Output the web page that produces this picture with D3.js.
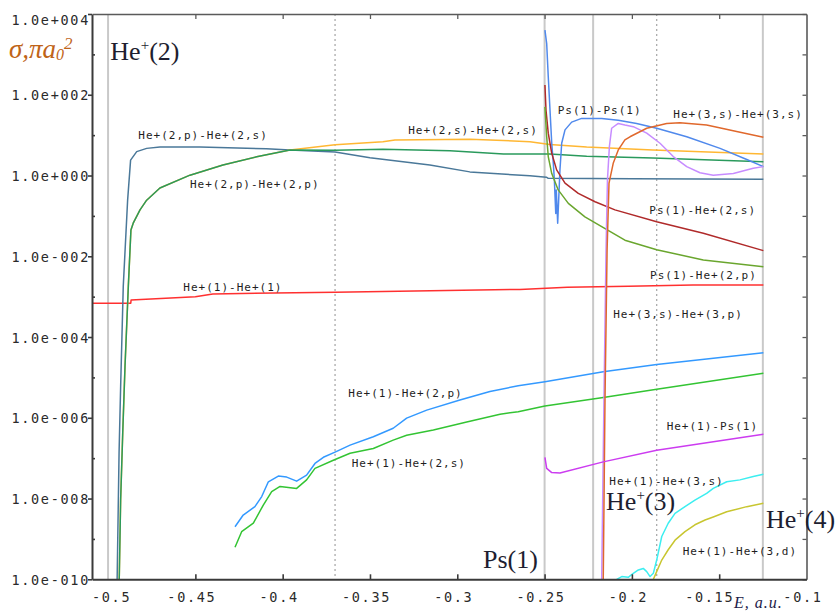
<!DOCTYPE html>
<html>
<head>
<meta charset="utf-8">
<script src="https://cdn.jsdelivr.net/npm/d3@7"></script>
<style>
body { margin: 0; background: #fff; }
svg { display: block; }
.tick-lbl { font-family: "DejaVu Sans Mono", monospace; font-size: 13.5px; letter-spacing: 1.7px; fill: #2a2a2a; }
.curve-lbl { font-family: "DejaVu Sans Mono", monospace; font-size: 11px; letter-spacing: 1px; fill: #1e1e1e; }
.big { font-family: "Liberation Serif", "Times New Roman", serif; font-size: 26px; fill: #1e1e30; }
</style>
</head>
<body>
<div id="chart"></div>
<script>
// axis ticks
var xTicks = [-0.5, -0.45, -0.4, -0.35, -0.3, -0.25, -0.2, -0.15, -0.1];
var yMajor = [1e4, 1e2, 1e0, 1e-2, 1e-4, 1e-6, 1e-8, 1e-10];
var yMajorLabels = ["1.0e+004", "1.0e+002", "1.0e+000", "1.0e-002", "1.0e-004", "1.0e-006", "1.0e-008", "1.0e-010"];
var yMinor = [1e3, 1e1, 1e-1, 1e-3, 1e-5, 1e-7, 1e-9];
var yAll = [1e4, 1e3, 1e2, 1e1, 1e0, 1e-1, 1e-2, 1e-3, 1e-4, 1e-5, 1e-6, 1e-7, 1e-8, 1e-9, 1e-10];

// thresholds (E, a.u.)
var solidLines = [-0.5, -0.25, -0.2222, -0.125];
var dottedLines = [-0.37, -0.1858];

// cross sections [E, sigma]
var he1_he1 = [[-0.5092,6.9e-4],[-0.4870,6.9e-4],[-0.4868,8.3e-4],[-0.4500,1.0e-3],[-0.4400,1.17e-3],[-0.3700,1.29e-3],
  [-0.2641,1.51e-3],[-0.2370,1.7e-3],[-0.2020,1.82e-3],[-0.1650,1.95e-3],[-0.1247,1.95e-3]];

var he1_he2p = [[-0.4273,2.0e-9],[-0.4226,3.9e-9],[-0.4159,6.3e-9],[-0.4120,1.12e-8],[-0.4082,2.6e-8],[-0.4025,3.6e-8],
  [-0.3977,3.4e-8],[-0.3920,2.7e-8],[-0.3863,3.8e-8],[-0.3815,7.4e-8],[-0.3767,1.05e-7],[-0.3700,1.41e-7],
  [-0.3614,2.1e-7],[-0.3481,3.4e-7],[-0.3367,5.5e-7],[-0.3290,9.8e-7],[-0.3175,1.55e-6],[-0.2985,2.75e-6],
  [-0.2813,4.5e-6],[-0.2651,6.2e-6],[-0.2498,7.8e-6],[-0.2164,1.38e-5],[-0.1858,2.1e-5],[-0.1247,4.1e-5]];

var he1_he2s = [[-0.4273,6.2e-10],[-0.4235,1.51e-9],[-0.4168,2.45e-9],[-0.4111,6.9e-9],[-0.4063,1.48e-8],[-0.4015,2.0e-8],
  [-0.3920,1.78e-8],[-0.3863,2.9e-8],[-0.3815,5.6e-8],[-0.3710,8.9e-8],[-0.3614,1.32e-7],[-0.3481,1.74e-7],
  [-0.3367,2.8e-7],[-0.3290,3.7e-7],[-0.3137,5.0e-7],[-0.2946,7.9e-7],[-0.2755,1.23e-6],[-0.2651,1.41e-6],
  [-0.2498,1.95e-6],[-0.2164,3.2e-6],[-0.1858,5.1e-6],[-0.1247,1.26e-5]];

var he2p_he2s = [[-0.4948,1e-10],[-0.4937,1.35e-7],[-0.4928,5.9e-6],[-0.4913,1.78e-3],[-0.4888,0.245],[-0.4871,2.4],
  [-0.4836,3.9],[-0.4779,4.7],[-0.4703,5.1],[-0.4474,5.1],[-0.4093,4.6],[-0.3958,4.3],[-0.3700,3.8],[-0.3500,2.75],
  [-0.3157,1.82],[-0.2928,1.23],[-0.2584,0.98],[-0.2490,0.91],[-0.2479,0.85],[-0.1994,0.83],[-0.1247,0.81]];

var he2s_he2s = [[-0.4936,1e-10],[-0.4928,9.1e-9],[-0.4916,4.2e-7],[-0.4903,1.86e-5],[-0.4884,1.78e-3],[-0.4869,0.045],
  [-0.4856,0.066],[-0.4817,0.141],[-0.4779,0.245],[-0.4703,0.49],[-0.4531,1.02],[-0.4342,1.82],[-0.4149,2.9],
  [-0.3958,4.3],[-0.3700,5.75],[-0.3426,6.9],[-0.3357,7.6],[-0.2928,7.9],[-0.2584,6.9],[-0.2470,5.9],
  [-0.2259,5.1],[-0.1880,4.3],[-0.1247,3.4]];

var he2p_he2p = [[-0.4936,1e-10],[-0.4928,9.1e-9],[-0.4916,4.2e-7],[-0.4903,1.86e-5],[-0.4884,1.78e-3],[-0.4869,0.045],
  [-0.4856,0.066],[-0.4817,0.141],[-0.4779,0.245],[-0.4703,0.49],[-0.4531,1.02],[-0.4342,1.82],[-0.4149,2.9],
  [-0.3958,4.3],[-0.3700,4.2],[-0.3426,4.5],[-0.3042,4.1],[-0.2735,3.4],[-0.2470,3.4],[-0.2259,3.0],
  [-0.1880,2.7],[-0.1247,2.2]];

var ps1_ps1 = [[-0.2498,4.0e3],[-0.2488,1.86e3],[-0.2479,282],[-0.2469,42],[-0.2459,6.3],[-0.2450,2.0],[-0.2444,0.78],
  [-0.2440,0.30],[-0.2436,0.115],[-0.2433,0.44],[-0.2425,0.066],[-0.2412,1.38],[-0.2402,6.3],[-0.2383,13.5],
  [-0.2345,21],[-0.2288,26],[-0.2173,26],[-0.2078,23.4],[-0.1973,19.5],[-0.1858,14.8],[-0.1686,9.1],
  [-0.1495,4.7],[-0.1342,2.5],[-0.1247,1.66]];

var ps1_he2s = [[-0.2498,174],[-0.2492,42],[-0.2479,11.2],[-0.2459,3.55],[-0.2431,1.38],[-0.2383,0.65],[-0.2307,0.36],
  [-0.2211,0.224],[-0.2097,0.141],[-0.1858,0.072],[-0.1591,0.037],[-0.1247,0.0138]];

var ps1_he2p = [[-0.2498,50],[-0.2488,9.1],[-0.2479,2.95],[-0.2459,1.12],[-0.2422,0.44],[-0.2364,0.204],[-0.2269,0.095],
  [-0.2173,0.054],[-0.2040,0.025],[-0.1858,0.0145],[-0.1591,0.0081],[-0.1247,0.0055]];

var he3s_he3p = [[-0.2173,1e-10],[-0.2160,2.75e-6],[-0.2148,0.0145],[-0.2140,0.78],[-0.2129,5.1],[-0.2116,14.8],
  [-0.2078,19.5],[-0.2040,17.8],[-0.1992,16.2],[-0.1915,11.2],[-0.1839,6.3],[-0.1763,2.95],[-0.1686,1.66],
  [-0.1610,1.17],[-0.1534,1.02],[-0.1419,1.12],[-0.1305,1.51],[-0.1247,1.66]];

var he3s_he3s = [[-0.2164,1e-10],[-0.2154,2.75e-6],[-0.2142,0.0145],[-0.2131,0.65],[-0.2107,2.0],[-0.2078,4.3],
  [-0.2040,7.6],[-0.2011,9.1],[-0.1915,14.8],[-0.1801,19.5],[-0.1725,20.4],[-0.1572,17.8],[-0.1400,12.3],
  [-0.1247,8.9]];

var he1_ps1 = [[-0.2498,1.05e-7],[-0.2488,5.6e-8],[-0.2459,4.4e-8],[-0.2412,4.3e-8],[-0.2164,8.1e-8],[-0.1858,1.58e-7],
  [-0.1247,3.9e-7]];

var he1_he3s = [[-0.2087,1e-10],[-0.2058,1.17e-10],[-0.2021,1.12e-10],[-0.1992,1.41e-10],[-0.1963,1.7e-10],
  [-0.1935,1.86e-10],[-0.1915,1.55e-10],[-0.1896,1.17e-10],[-0.1877,1.41e-10],[-0.1858,3.0e-10],[-0.1829,1.15e-9],
  [-0.1792,2.45e-9],[-0.1753,4.3e-9],[-0.1696,6.3e-9],[-0.1639,9.1e-9],[-0.1572,1.35e-8],[-0.1534,1.78e-8],
  [-0.1457,2.6e-8],[-0.1381,2.9e-8],[-0.1305,3.5e-8],[-0.1247,4.0e-8]];

var he1_he3d = [[-0.1877,1e-10],[-0.1858,1.55e-10],[-0.1829,3.0e-10],[-0.1792,5.4e-10],[-0.1753,9.3e-10],[-0.1696,1.51e-9],
  [-0.1639,2.24e-9],[-0.1581,2.95e-9],[-0.1534,3.5e-9],[-0.1457,4.7e-9],[-0.1342,6.3e-9],[-0.1247,7.6e-9]];

var seriesData = [he1_he1, he1_he2p, he1_he2s, he2p_he2s, he2s_he2s, he2p_he2p, ps1_ps1, ps1_he2s, ps1_he2p,
  he3s_he3p, he3s_he3s, he1_ps1, he1_he3s, he1_he3d];
var seriesColors = ["#ff3030", "#3399ff", "#33c433", "#4a7899", "#ffb733", "#2a9a5c", "#5089ec", "#b02a2a", "#6aa62e",
  "#c78cff", "#e0682c", "#cc3cf0", "#3ceef0", "#c8c630"];

// curve labels: text and anchor [E, sigma]
var labelTexts = ["He+(2,p)-He+(2,s)", "He+(2,p)-He+(2,p)", "He+(2,s)-He+(2,s)", "He+(1)-He+(1)", "Ps(1)-Ps(1)",
  "He+(3,s)-He+(3,s)", "Ps(1)-He+(2,s)", "Ps(1)-He+(2,p)", "He+(3,s)-He+(3,p)", "He+(1)-He+(2,p)",
  "He+(1)-He+(2,s)", "He+(1)-Ps(1)", "He+(1)-He+(3,s)", "He+(1)-He+(3,d)"];
var labelAt = [[-0.4827,8.0],[-0.4531,0.48],[-0.3281,10.7],[-0.4569,1.38e-3],[-0.2425,33],[-0.1763,26],
  [-0.1900,0.111],[-0.1896,2.8e-3],[-0.2107,2.9e-4],[-0.3624,3.2e-6],[-0.3605,5.9e-8],[-0.1801,5.0e-7],
  [-0.2129,2.2e-8],[-0.1709,4.1e-10]];

// threshold names [n, E, sigma]
var levelNames = [["2", -0.4987, 724], ["3", -0.2148, 5.2e-9], ["4", -0.1232, 1.86e-9]];
var psName = ["Ps(1)", -0.2853, 1.9e-10];

var W = 838, H = 611;
var m = {left: 92, right: 806.5, top: 14, bottom: 579.3};

var x = d3.scaleLinear().domain([-0.5092, -0.1]).range([m.left, m.right]);
var y = d3.scaleLog().domain([1e-10, 1e4]).range([m.bottom, m.top]);

var svg = d3.select("#chart").append("svg")
    .attr("width", W)
    .attr("height", H);

svg.append("clipPath").attr("id", "plotclip")
  .append("rect")
    .attr("x", m.left).attr("y", m.top)
    .attr("width", m.right - m.left).attr("height", m.bottom - m.top);

// threshold lines
svg.selectAll(".thr")
  .data(solidLines)
  .enter().append("line")
    .attr("x1", d => x(d)).attr("x2", d => x(d))
    .attr("y1", m.top).attr("y2", m.bottom)
    .attr("stroke", "#c9c9c9")
    .attr("stroke-width", 2);

svg.selectAll(".dot-thr")
  .data(dottedLines)
  .enter().append("line")
    .attr("x1", d => x(d)).attr("x2", d => x(d))
    .attr("y1", m.top).attr("y2", m.bottom)
    .attr("stroke", "#ababab")
    .attr("stroke-width", 1.3)
    .attr("stroke-dasharray", "2,3");

var line = d3.line()
    .x(d => x(d[0]))
    .y(d => y(d[1]));

var curves = svg.append("g").attr("clip-path", "url(#plotclip)");
curves.selectAll("path")
  .data(seriesData)
  .enter().append("path")
    .attr("d", line)
    .attr("fill", "none")
    .attr("stroke", (d, i) => seriesColors[i])
    .attr("stroke-width", 1.5)
    .attr("stroke-linejoin", "round");

// axes
function styleAxis(g, col, w) {
  g.select(".domain").attr("stroke", col).attr("stroke-width", w);
  g.selectAll(".tick line").attr("stroke", col).attr("stroke-width", w * 0.8);
}

var gl = svg.append("g")
    .attr("transform", "translate(" + m.left + ",0)")
    .call(d3.axisLeft(y).tickValues(yMajor).tickSizeInner(4).tickSizeOuter(0).tickPadding(-2)
      .tickFormat((d, i) => yMajorLabels[i]));
styleAxis(gl, "#3a3a3a", 2);
gl.selectAll("text").attr("class", "tick-lbl").attr("dy", d => d === 1e4 ? "0.77em" : "0.37em").attr("fill", null);

var glm = svg.append("g")
    .attr("transform", "translate(" + m.left + ",0)")
    .call(d3.axisLeft(y).tickValues(yMinor).tickSize(-3).tickFormat(""));
styleAxis(glm, "#3a3a3a", 2);
glm.select(".domain").remove();

var gr = svg.append("g")
    .attr("transform", "translate(" + m.right + ",0)")
    .call(d3.axisRight(y).tickValues(yAll).tickSizeInner(-4).tickSizeOuter(0).tickFormat(""));
styleAxis(gr, "#5a5a5a", 1.6);

var gt = svg.append("g")
    .attr("transform", "translate(0," + m.top + ")")
    .call(d3.axisTop(x).tickValues(xTicks.slice(1, 8)).tickSizeInner(-5).tickSizeOuter(0).tickFormat(""));
styleAxis(gt, "#5a5a5a", 1.6);

var gb = svg.append("g")
    .attr("transform", "translate(0," + m.bottom + ")")
    .call(d3.axisBottom(x).tickValues(xTicks).tickSizeInner(-5).tickSizeOuter(0).tickPadding(13)
      .tickFormat(d => String(d)));
styleAxis(gb, "#3a3a3a", 2);
gb.selectAll(".tick").filter(d => d === -0.5 || d === -0.1).select("line").remove();
gb.selectAll("text").attr("class", "tick-lbl").attr("fill", null)
    .attr("dx", d => d === -0.15 ? -10 : (d === -0.5 ? 3 : -4));

// curve labels
svg.selectAll(".curve-lbl")
  .data(labelTexts)
  .enter().append("text")
    .attr("class", "curve-lbl")
    .attr("x", (d, i) => x(labelAt[i][0]))
    .attr("y", (d, i) => y(labelAt[i][1]))
    .text(d => d);

// He+(n) level names
levelNames.forEach(function(l) {
  var t = svg.append("text").attr("class", "big")
      .attr("x", x(l[1])).attr("y", y(l[2]));
  t.append("tspan").text("He");
  t.append("tspan").attr("font-size", "15px").attr("dy", -10).text("+");
  t.append("tspan").attr("dy", 10).text("(" + l[0] + ")");
});

svg.append("text").attr("class", "big")
    .attr("x", x(psName[1])).attr("y", y(psName[2]))
    .text(psName[0]);

// y axis title
var yt = svg.append("text")
    .attr("x", 9).attr("y", 58)
    .attr("font-family", "Liberation Serif, serif")
    .attr("font-style", "italic")
    .attr("font-size", "27px")
    .attr("fill", "#bf6418");
yt.append("tspan").text("σ,πa");
yt.append("tspan").attr("font-size", "16px").attr("dy", 2).text("0");
yt.append("tspan").attr("font-size", "17px").attr("dy", -11).text("2");

// x axis title
svg.append("text")
    .attr("x", 734).attr("y", 608)
    .attr("font-family", "Liberation Serif, serif")
    .attr("font-style", "italic")
    .attr("font-size", "16px")
    .attr("letter-spacing", "1px")
    .attr("fill", "#1c2048")
    .text("E, a.u.");
</script>
</body>
</html>
